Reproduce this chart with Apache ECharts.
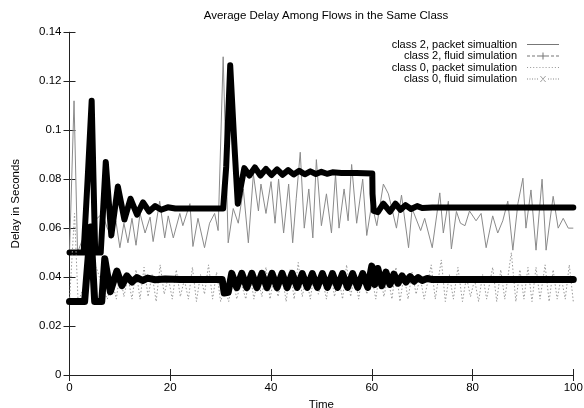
<!DOCTYPE html>
<html>
<head>
<meta charset="utf-8">
<script src="https://cdn.jsdelivr.net/npm/echarts@6/dist/echarts.min.js"></script>
<style>
  html, body { margin: 0; padding: 0; background: #fff; }
  #chart { width: 584px; height: 408px; }
</style>
</head>
<body>
<div id="chart"></div>
<script>
// ticks
var xTicks = [0, 20, 40, 60, 80, 100];
var yTicks = [0, 0.02, 0.04, 0.06, 0.08, 0.1, 0.12, 0.14];

var seriesNames = [
    'class 2, packet simualtion',
    'class 2, fluid simulation',
    'class 0, packet simulation',
    'class 0, fluid simulation'
];

// class 2, packet simulation  [time, delay]
var class2Packet = [
    [0, 0.050], [0.9, 0.112], [1.6, 0.050], [2.5, 0.055], [3.5, 0.058], [4.5, 0.062],
    [5.5, 0.064], [6.5, 0.066], [7.5, 0.060], [8.3, 0.057], [9.2, 0.063], [10, 0.052],
    [10.8, 0.062], [11.6, 0.054], [12.4, 0.064], [13.2, 0.053], [14, 0.066], [15, 0.058],
    [16, 0.0645], [16.6, 0.0545], [17.9, 0.071], [18.9, 0.056], [19.6, 0.065], [20.6, 0.056],
    [21.9, 0.066], [22.5, 0.061], [23.9, 0.070], [24.5, 0.0525], [25.5, 0.064], [26.8, 0.052],
    [27.8, 0.062], [28.8, 0.066], [29.5, 0.059], [30.5, 0.130], [31.5, 0.054], [32.5, 0.068],
    [33.5, 0.062], [34.5, 0.076], [35.5, 0.054], [36.5, 0.082], [37.5, 0.067], [38, 0.078],
    [39, 0.066], [40, 0.079], [40.8, 0.062], [41.5, 0.080], [42.5, 0.058], [43.5, 0.078],
    [44.3, 0.054], [45, 0.072], [45.8, 0.091], [46.6, 0.060], [47.5, 0.076], [48.3, 0.056],
    [49, 0.088], [50, 0.061], [51, 0.074], [52, 0.058], [52.8, 0.082], [53.5, 0.060],
    [54.5, 0.076], [55.3, 0.063], [56, 0.086], [57, 0.062], [58.2, 0.080], [59, 0.057],
    [60, 0.070], [61, 0.061], [62.3, 0.078], [63.3, 0.074], [64.9, 0.060], [65.9, 0.0735],
    [67.3, 0.052], [68, 0.068], [69.7, 0.059], [70.5, 0.064], [72, 0.052], [73.5, 0.0744],
    [74.2, 0.058], [75.2, 0.071], [75.8, 0.0515], [76.8, 0.0668], [77.6, 0.062], [78.5, 0.061],
    [79.4, 0.067], [80.7, 0.063], [81.7, 0.066], [82.7, 0.052], [84, 0.065], [85, 0.058],
    [86, 0.063], [87, 0.071], [88, 0.051], [89, 0.070], [90, 0.0804], [90.6, 0.060],
    [91.6, 0.0756], [92.6, 0.051], [93.8, 0.080], [94.6, 0.051], [96, 0.073], [97, 0.060],
    [98, 0.064], [99, 0.060], [100, 0.060]
];

// class 2, fluid simulation
var class2Fluid = [
    [0, 0.050], [2.8, 0.050], [3.6, 0.080], [4.4, 0.112], [5.1, 0.050], [6.2, 0.050],
    [7.2, 0.087], [8.3, 0.057], [9.6, 0.077], [10.9, 0.0635], [12.1, 0.072], [13.4, 0.0655],
    [14.6, 0.0705], [15.8, 0.0668], [17, 0.069], [18.2, 0.0675], [19.5, 0.0685], [21, 0.068],
    [30.5, 0.068], [31.1, 0.085], [31.9, 0.1265], [32.7, 0.095], [33.4, 0.070], [34.1, 0.078],
    [34.7, 0.0845], [35.7, 0.0815], [36.8, 0.0848], [37.9, 0.0815], [39, 0.0842], [40.1, 0.0817],
    [41.2, 0.084], [42.3, 0.0818], [43.4, 0.0837], [44.5, 0.0819], [45.6, 0.0834], [46.7, 0.082],
    [47.8, 0.0832], [48.9, 0.0821], [50, 0.083], [51.1, 0.0822], [52.2, 0.0828], [54, 0.0825],
    [57, 0.0825], [60.1, 0.0823], [60.15, 0.074], [60.4, 0.067], [61.2, 0.0665], [62.3, 0.070],
    [63.6, 0.0667], [64.7, 0.070], [65.7, 0.0675], [66.7, 0.0694], [67.8, 0.0678], [69, 0.069],
    [70, 0.0682], [72, 0.0684], [100, 0.0684]
];

// class 0, packet simulation
var class0Packet = [
    [0, 0.030], [1, 0.066], [1.7, 0.030], [2.5, 0.034], [3.5, 0.040], [4.5, 0.047],
    [5.5, 0.043], [6.5, 0.036], [7.5, 0.031], [8.5, 0.038], [9.3, 0.031], [10, 0.042],
    [10.8, 0.032], [11.6, 0.040], [12.4, 0.031], [13.2, 0.043], [14, 0.031], [14.8, 0.044],
    [15.6, 0.032], [16.4, 0.041], [17.2, 0.030], [18, 0.045], [18.8, 0.033], [19.6, 0.040],
    [20.4, 0.031], [21.2, 0.043], [22, 0.032], [22.8, 0.039], [23.6, 0.031], [24.4, 0.044],
    [25.2, 0.030], [26, 0.041], [26.8, 0.033], [27.6, 0.045], [28.4, 0.031], [29.2, 0.042],
    [30, 0.030], [30.8, 0.036], [31.6, 0.030], [32.4, 0.040], [33.2, 0.031], [34, 0.038],
    [35, 0.031], [35.8, 0.042], [36.6, 0.031], [37.4, 0.039], [38.2, 0.032], [39, 0.044],
    [39.8, 0.031], [40.6, 0.040], [41.4, 0.032], [42.2, 0.041], [43, 0.030], [43.8, 0.043],
    [44.6, 0.031], [45.4, 0.046], [46.2, 0.032], [47, 0.040], [47.8, 0.031], [48.6, 0.042],
    [49.4, 0.033], [50.2, 0.039], [51, 0.031], [51.8, 0.043], [52.6, 0.032], [53.4, 0.040],
    [54.2, 0.031], [55, 0.045], [55.8, 0.032], [56.6, 0.041], [57.4, 0.031], [58.2, 0.043],
    [59, 0.033], [60, 0.040], [60.8, 0.031], [61.6, 0.043], [62.4, 0.032], [63.2, 0.040],
    [64, 0.031], [64.8, 0.044], [65.6, 0.030], [66.4, 0.041], [67.2, 0.031], [68, 0.042],
    [68.8, 0.033], [69.6, 0.040], [70.4, 0.031], [71.8, 0.045], [72.6, 0.031], [73.8, 0.047],
    [74.6, 0.030], [75.4, 0.041], [76.2, 0.031], [77.1, 0.044], [78, 0.030], [78.8, 0.040],
    [79.6, 0.032], [80.4, 0.039], [81.2, 0.030], [82, 0.041], [82.8, 0.031], [84, 0.044],
    [84.8, 0.030], [85.6, 0.043], [86.4, 0.031], [87.7, 0.050], [88.6, 0.030], [89.4, 0.043],
    [90.2, 0.031], [91, 0.044], [91.8, 0.030], [92.6, 0.044], [93.4, 0.031], [94.4, 0.045],
    [95.2, 0.030], [96, 0.043], [96.8, 0.031], [97.6, 0.040], [98.4, 0.031], [99.2, 0.045],
    [100, 0.030]
];

// class 0, fluid simulation
var class0Fluid = [
    [0, 0.030], [3.0, 0.030], [4.2, 0.0605], [5.0, 0.030], [6.4, 0.030], [7.0, 0.0475],
    [8.1, 0.0340], [9.4, 0.0425], [10.4, 0.0365], [11.4, 0.0405], [12.4, 0.0380], [13.4, 0.0398],
    [14.5, 0.0386], [15.5, 0.0396], [17, 0.0389], [19, 0.0392], [22, 0.039], [30.3, 0.039],
    [30.7, 0.0335], [31.5, 0.0338], [32.2, 0.0415], [33.2, 0.0357], [34.2, 0.0415], [35.2, 0.0357],
    [36.2, 0.0415], [37.2, 0.0357], [38.2, 0.0415], [39.2, 0.0357], [40.2, 0.0415], [41.2, 0.0357],
    [42.2, 0.0415], [43.2, 0.0357], [44.2, 0.0415], [45.2, 0.0358], [46.2, 0.0414], [47.2, 0.0358],
    [48.2, 0.0414], [49.2, 0.0358], [50.2, 0.0414], [51.2, 0.0358], [52.2, 0.0414], [53.2, 0.0358],
    [54.2, 0.0414], [55.2, 0.0358], [56.2, 0.0414], [57.2, 0.0358], [58.2, 0.0414], [59.2, 0.0358],
    [60.0, 0.0445], [60.6, 0.0370], [61.2, 0.0435], [62, 0.0365], [62.8, 0.0420], [63.6, 0.0370],
    [64.4, 0.0412], [65.2, 0.0375], [66, 0.0405], [66.8, 0.0380], [67.6, 0.0402], [68.4, 0.0383],
    [69.2, 0.0398], [70, 0.0386], [71, 0.0394], [72, 0.039], [100, 0.039]
];

var FONT = "'Liberation Sans', Arial, Helvetica, sans-serif";

// legend icons (gnuplot style key samples)
var iconSolid = 'path://M0,0H32V1H0Z';
var iconDashPlus = 'path://M0,3H3V4H0ZM5,3H8V4H5ZM10,3H13V4H10ZM19,3H22V4H19ZM24,3H27V4H24ZM29,3H32V4H29Z' +
    'M15.5,0H16.5V7H15.5ZM12.5,3H19.5V4H12.5Z';
var iconDotted = 'path://M0,0H1V1H0ZM3,0H4V1H3ZM6,0H7V1H6ZM9,0H10V1H9ZM12,0H13V1H12ZM15,0H16V1H15Z' +
    'M18,0H19V1H18ZM21,0H22V1H21ZM24,0H25V1H24ZM27,0H28V1H27ZM30,0H31V1H30Z';
var iconDotCross = 'path://M0,3H1V4H0ZM2.5,3H3.5V4H2.5ZM5,3H6V4H5ZM7.5,3H8.5V4H7.5ZM10,3H11V4H10Z' +
    'M21,3H22V4H21ZM23.5,3H24.5V4H23.5ZM26,3H27V4H26ZM28.5,3H29.5V4H28.5ZM31,3H32V4H31Z' +
    'M13,0.5L13.8,0.5L19,6.5L18.2,6.5ZM18.2,0.5L19,0.5L13.8,6.5L13,6.5Z';

function axisLabelFmt(v) {
    return v === 0 ? '0' : String(+v.toFixed(2));
}

var axisLineStyle = { lineStyle: { color: '#222', width: 1 } };
var tickStyle = { inside: true, length: 6, lineStyle: { color: '#222', width: 1 } };

var option = {
    animation: false,
    backgroundColor: '#fff',
    textStyle: { fontFamily: FONT },
    title: {
        text: 'Average Delay Among Flows in the Same Class',
        left: 321,
        textAlign: 'center',
        top: 5,
        textStyle: { fontSize: 11.5, fontWeight: 'normal', color: '#000', fontFamily: FONT }
    },
    legend: {
        orient: 'vertical',
        align: 'right',
        right: 20,
        top: 34,
        itemWidth: 32,
        itemHeight: 10,
        itemGap: 0.5,
        textStyle: { fontSize: 11, color: '#000', fontFamily: FONT, lineHeight: 11, padding: [0, 5, 0, 0] },
        itemStyle: { borderWidth: 0 },
        data: [
            { name: seriesNames[0], icon: iconSolid, itemStyle: { color: '#777', borderWidth: 0 } },
            { name: seriesNames[1], icon: iconDashPlus, itemStyle: { color: '#777', borderWidth: 0 } },
            { name: seriesNames[2], icon: iconDotted, itemStyle: { color: '#999', borderWidth: 0 } },
            { name: seriesNames[3], icon: iconDotCross, itemStyle: { color: '#888', borderWidth: 0 } }
        ]
    },
    grid: { left: 69.5, right: 10.7, top: 32.3, bottom: 33, outerBoundsMode: 'none', containLabel: false },
    xAxis: [{
        type: 'value',
        min: xTicks[0],
        max: xTicks[xTicks.length - 1],
        interval: 20,
        name: 'Time',
        nameLocation: 'middle',
        nameGap: 24,
        nameTextStyle: { fontSize: 11.5, color: '#000', fontFamily: FONT },
        axisLine: axisLineStyle,
        axisTick: tickStyle,
        axisLabel: { fontSize: 11.5, color: '#000', margin: 7, fontFamily: FONT },
        splitLine: { show: false }
    }, {
        type: 'value',
        position: 'top',
        min: xTicks[0],
        max: xTicks[xTicks.length - 1],
        interval: 20,
        axisLine: axisLineStyle,
        axisTick: tickStyle,
        axisLabel: { show: false },
        splitLine: { show: false }
    }],
    yAxis: [{
        type: 'value',
        min: yTicks[0],
        max: yTicks[yTicks.length - 1],
        interval: 0.02,
        name: 'Delay in Seconds',
        nameLocation: 'middle',
        nameGap: 48,
        nameTextStyle: { fontSize: 11.5, color: '#000', fontFamily: FONT },
        axisLine: axisLineStyle,
        axisTick: tickStyle,
        axisLabel: { fontSize: 11.5, color: '#000', margin: 8, fontFamily: FONT, formatter: axisLabelFmt },
        splitLine: { show: false }
    }, {
        type: 'value',
        position: 'right',
        min: yTicks[0],
        max: yTicks[yTicks.length - 1],
        interval: 0.02,
        axisLine: axisLineStyle,
        axisTick: tickStyle,
        axisLabel: { show: false },
        splitLine: { show: false }
    }],
    series: [{
        name: seriesNames[0],
        type: 'line',
        xAxisIndex: 0,
        yAxisIndex: 0,
        data: class2Packet,
        symbol: 'none',
        color: '#8a8a8a',
        lineStyle: { color: '#8a8a8a', width: 1 }
    }, {
        name: seriesNames[1],
        type: 'line',
        xAxisIndex: 0,
        yAxisIndex: 0,
        data: class2Fluid,
        symbol: 'none',
        color: '#000',
        lineStyle: { color: '#000', width: 6, join: 'round', cap: 'round' }
    }, {
        name: seriesNames[2],
        type: 'line',
        xAxisIndex: 0,
        yAxisIndex: 0,
        data: class0Packet,
        symbol: 'none',
        color: '#999',
        lineStyle: { color: '#999', width: 1, type: [1.5, 2] }
    }, {
        name: seriesNames[3],
        type: 'line',
        xAxisIndex: 0,
        yAxisIndex: 0,
        data: class0Fluid,
        symbol: 'none',
        color: '#000',
        lineStyle: { color: '#000', width: 7, join: 'round', cap: 'round' }
    }]
};

var chart = echarts.init(document.getElementById('chart'), null, { renderer: 'canvas' });
chart.setOption(option);
</script>
</body>
</html>
